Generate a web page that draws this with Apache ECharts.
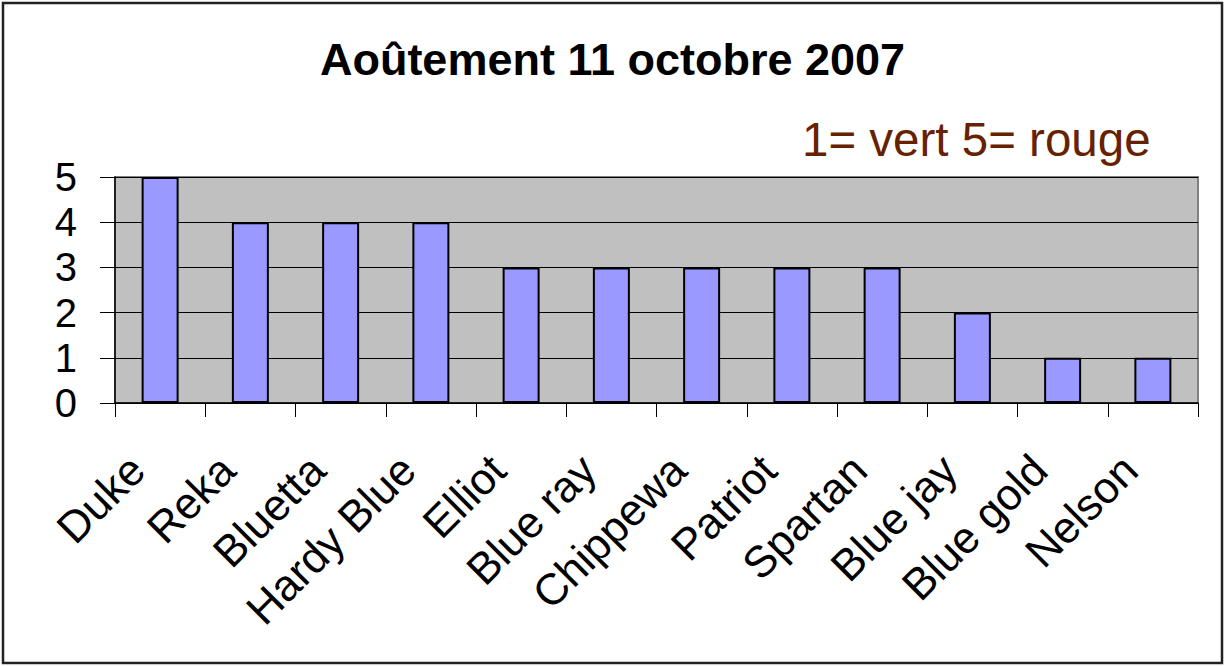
<!DOCTYPE html>
<html>
<head>
<meta charset="utf-8">
<script src="https://cdn.jsdelivr.net/npm/echarts@6/dist/echarts.min.js"></script>
<style>
  html, body { margin: 0; padding: 0; background: #fff; }
  #chart { width: 1225px; height: 666px; }
</style>
</head>
<body>
<div id="chart"></div>
<script>
var categories = ['Duke', 'Reka', 'Bluetta', 'Hardy Blue', 'Elliot', 'Blue ray', 'Chippewa', 'Patriot', 'Spartan', 'Blue jay', 'Blue gold', 'Nelson'];
var scores = [5, 4, 4, 4, 3, 3, 3, 3, 3, 2, 1, 1];
var titleText = 'Aoûtement 11 octobre 2007';
var noteText = '1= vert 5= rouge';

var font = 'Liberation Sans, Arial, sans-serif';
var chart = echarts.init(document.getElementById('chart'), null, { renderer: 'svg' });

chart.setOption({
  animation: false,
  title: [{
    text: titleText,
    left: 'center',
    top: 32,
    textStyle: { fontFamily: font, fontSize: 45, fontWeight: 'bold', color: '#000' }
  }, {
    text: noteText,
    left: 797,
    top: 110,
    textStyle: { fontFamily: font, fontSize: 47.5, fontWeight: 'normal', color: '#662200' }
  }],
  graphic: [{
    type: 'rect',
    shape: { x: 3, y: 3, width: 1219, height: 660 },
    style: { fill: 'none', stroke: '#222', lineWidth: 2.5 },
    silent: true
  }],
  grid: {
    left: 115, right: 27, top: 177, bottom: 263,
    show: true,
    backgroundColor: '#C0C0C0',
    borderColor: '#808080',
    borderWidth: 2
  },
  xAxis: {
    type: 'category',
    data: categories,
    axisLine: { lineStyle: { color: '#000', width: 1.5 } },
    axisTick: { show: true, length: 14, lineStyle: { color: '#000' } },
    axisLabel: {
      rotate: 45,
      margin: 36,
      padding: [0, 33, 0, 0],
      interval: 0,
      fontFamily: font,
      fontSize: 44,
      color: '#000'
    }
  },
  yAxis: {
    type: 'value',
    min: 0,
    max: 5,
    interval: 1,
    axisLine: { show: true, lineStyle: { color: '#000', width: 1.5 } },
    axisTick: { show: true, length: 15, lineStyle: { color: '#000' } },
    splitLine: { lineStyle: { color: '#000', width: 1 } },
    axisLabel: { margin: 38, fontFamily: font, fontSize: 40, color: '#000' }
  },
  series: [{
    type: 'bar',
    data: scores,
    barWidth: 37,
    itemStyle: { color: '#9999FF', borderColor: '#000', borderWidth: 2 }
  }]
});
</script>
</body>
</html>
